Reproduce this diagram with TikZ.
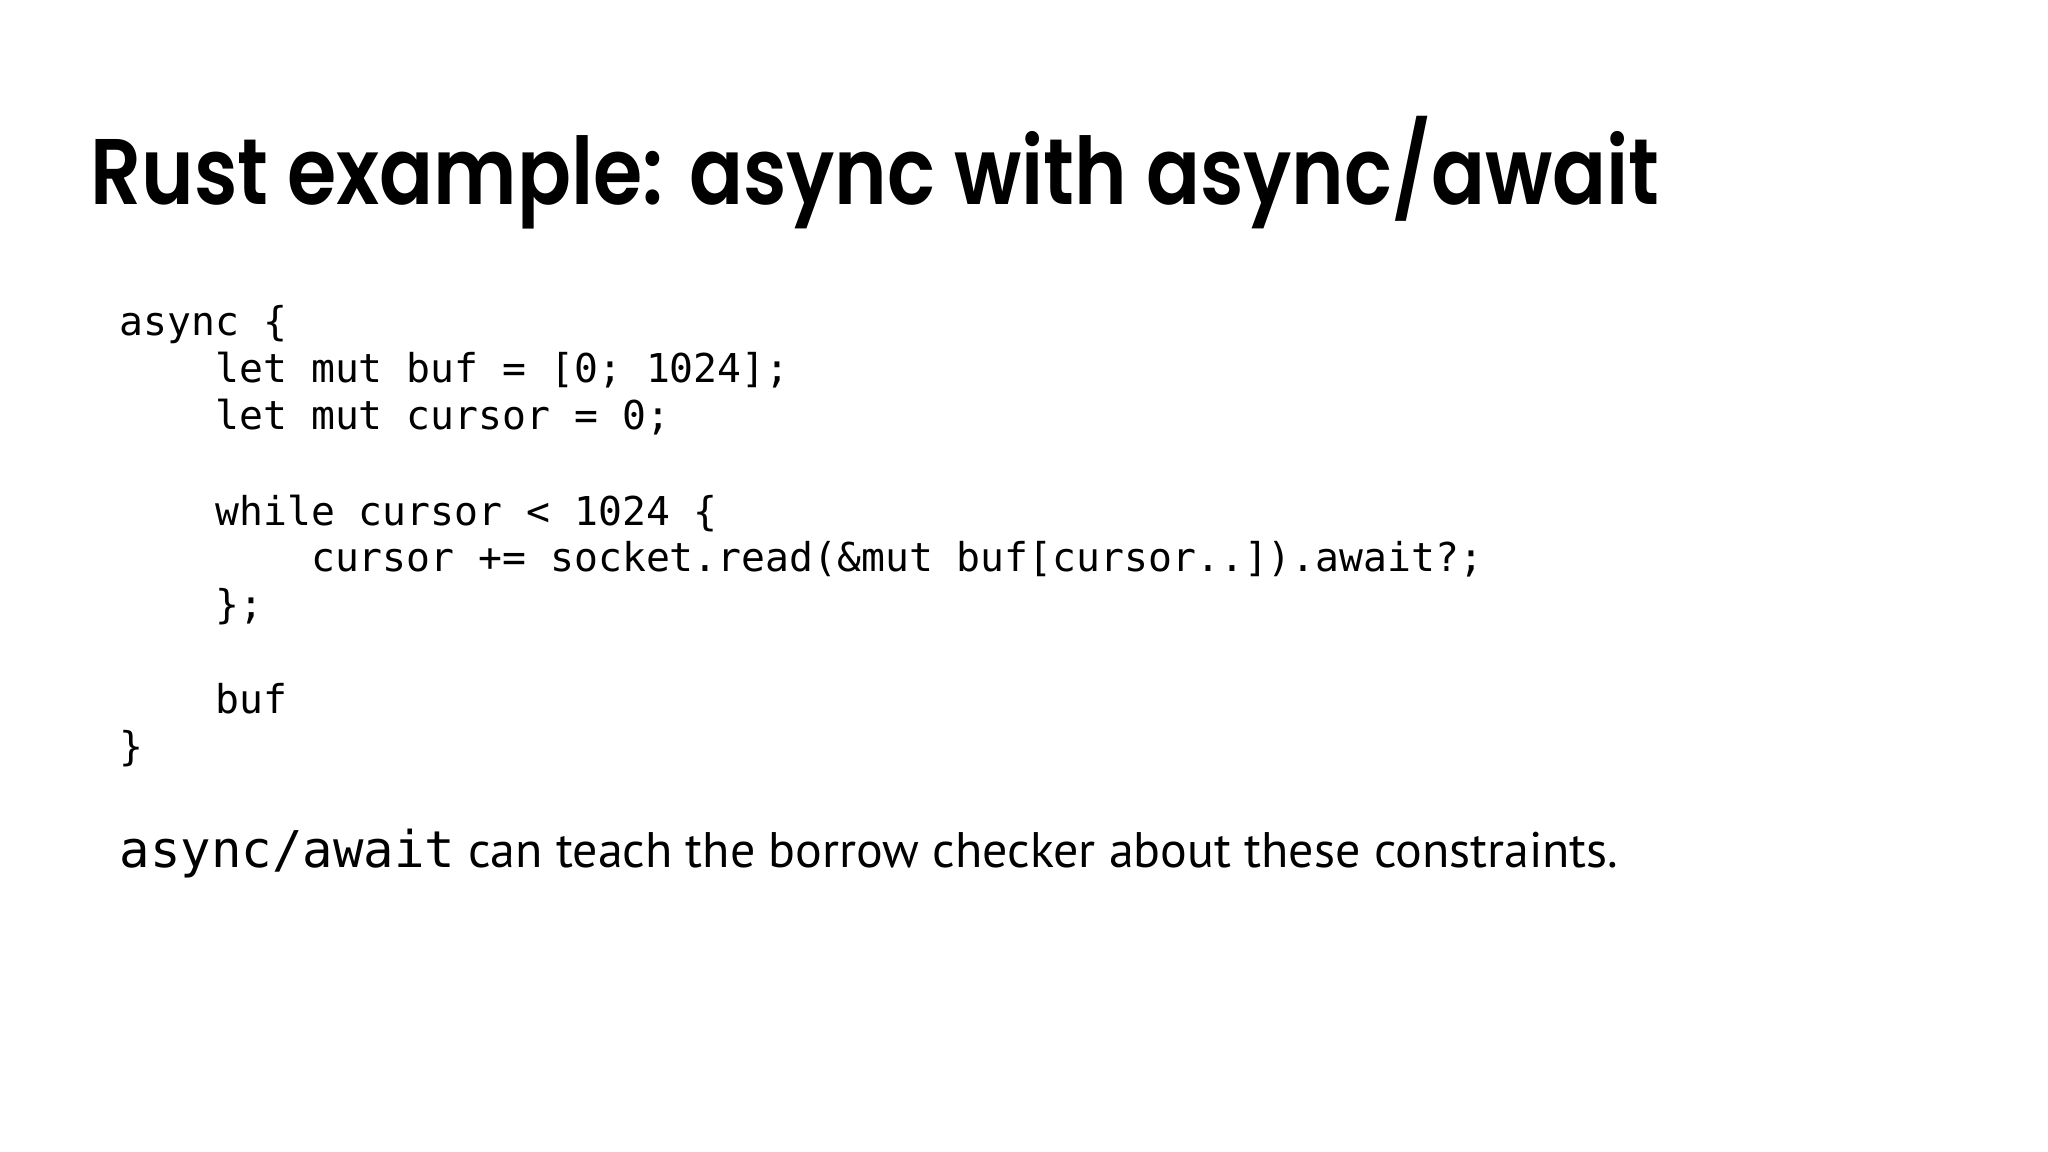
\documentclass[tikz,border=0pt]{standalone}
\usepackage{fontspec}
\setmainfont{PT Sans}
\newfontfamily\titlefont{Poppins SemiBold}
\newfontfamily\codefont{DejaVu Sans Mono}
\begin{document}
\begin{tikzpicture}[x=0.01cm,y=-0.01cm,
  codeline/.style={anchor=base west,inner sep=0,font=\codefont\fontsize{11.3pt}{13pt}\selectfont}]
\useasboundingbox[fill=white] (0,0) rectangle (2048,1152);
\node[anchor=base west,inner sep=0,font=\titlefont\fontsize{26.5pt}{30pt}\selectfont] (title) at (90,205) {\scalebox{0.855}[1]{Rust example: async with async/await}};
\def\cx{119}
\node[codeline] (l1) at (\cx,336) {async \{};
\node[codeline] (l2) at (\cx,383) {\ \ \ \ let mut buf = [0; 1024];};
\node[codeline] (l3) at (\cx,430) {\ \ \ \ let mut cursor = 0;};
\node[codeline] (l5) at (\cx,525) {\ \ \ \ while cursor < 1024 \{};
\node[codeline] (l6) at (\cx,572) {\ \ \ \ \ \ \ \ cursor += socket.read(\&mut buf[cursor..]).await?;};
\node[codeline] (l7) at (\cx,619) {\ \ \ \ \};};
\node[codeline] (l9) at (\cx,713) {\ \ \ \ buf};
\node[codeline] (l10) at (\cx,760) {\}};
\node[anchor=base west,inner sep=0,font=\fontsize{14.2pt}{18pt}\selectfont] (sent) at (\cx,867) {{\codefont\fontsize{14.4pt}{18pt}\selectfont async/await} can teach the borrow checker about these constraints.};
\end{tikzpicture}
\end{document}
